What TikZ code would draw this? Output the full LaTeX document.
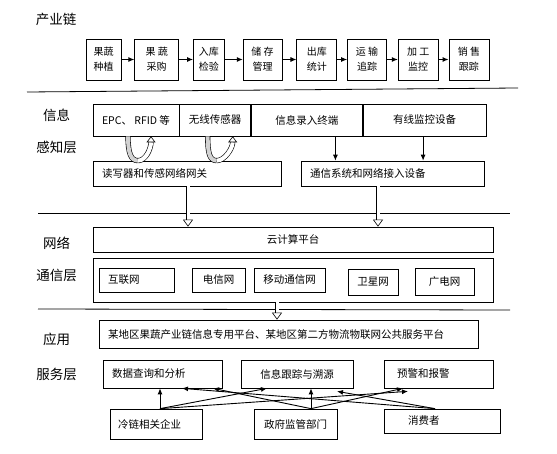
\documentclass[tikz,border=0pt]{standalone}
\usepackage{fontspec}
\setmainfont{Noto Sans CJK SC}
\usetikzlibrary{arrows.meta,positioning}

\begin{document}
\begin{tikzpicture}[x=1pt,y=-1pt,>={Latex[length=6pt,width=5pt]},
    box/.style={draw,rectangle,line width=0.7pt,inner sep=0pt,
      font=\fontsize{10.5}{13}\selectfont},
    chain/.style={box,minimum height=41pt,align=center,
      font=\fontsize{10}{15}\selectfont},
    layer/.style={font=\fontsize{13.5}{16}\selectfont},
    hollow/.style={double,double distance=3pt,line width=0.6pt,
      -{Triangle[open,length=7pt,width=10pt]}},
    uband/.style={double=gray!35,double distance=4pt,line width=0.6pt},
    link/.style={->,line width=0.9pt}]
  \useasboundingbox (0,0) rectangle (557,454);

  % layer names
  \node[layer] (l0) at (56,19) {产业链};
  \node[layer] (l1) at (56.5,115) {信息};
  \node[layer] (l2) at (56.5,147) {感知层};
  \node[layer] (l3) at (56.5,243) {网络};
  \node[layer] (l4) at (56.5,275) {通信层};
  \node[layer] (l5) at (56.5,339) {应用};
  \node[layer] (l6) at (56.5,374) {服务层};

  % industry chain
  \node[chain,minimum width=35pt] (c1) at (103.5,59.5) {果蔬\\种植};
  \node[chain,minimum width=44pt,right=13pt of c1] (c2) {果 蔬\\采购};
  \node[chain,minimum width=31pt,right=14pt of c2] (c3) {入库\\检验};
  \node[chain,minimum width=39pt,right=18pt of c3] (c4) {储 存\\管理};
  \node[chain,minimum width=40pt,right=14pt of c4] (c5) {出库\\统计};
  \node[chain,minimum width=39pt,right=10pt of c5] (c6) {运 输\\追踪};
  \node[chain,minimum width=40pt,right=11pt of c6] (c7) {加 工\\监控};
  \node[chain,minimum width=40pt,right=10pt of c7] (c8) {销 售\\跟踪};
  \draw[link] (c1) -- (c2);
  \draw[link] (c2) -- (c3);
  \draw[link] (c3) -- (c4);
  \draw[link] (c4) -- (c5);
  \draw[link] (c5) -- (c6);
  \draw[link] (c6) -- (c7);
  \draw[link] (c7) -- (c8);

  % separators
  \draw[line width=0.8pt] (27,92) -- (518,88);
  \draw[line width=0.8pt] (38,213) -- (510,213);
  \draw[line width=0.8pt] (38,309) -- (510,310);

  % sensing layer
  \node[box,minimum width=86pt,minimum height=32pt] (i1) at (136,120) {EPC、 RFID 等};
  \node[box,minimum width=71pt,minimum height=32pt,right=0pt of i1] (i2) {无线传感器};
  \node[box,minimum width=111pt,minimum height=32pt,right=0pt of i2] (i3) {信息录入终端};
  \node[box,minimum width=123pt,minimum height=32pt,right=0pt of i3] (i4) {有线监控设备};
  \node[box,minimum height=25pt,text width=170pt,inner xsep=9pt,align=left] (g)
    at (187,173.5) {读写器和传感网络网关};
  \node[box,minimum height=25pt,text width=165pt,inner xsep=9pt,align=left] (m)
    at (392.5,173.5) {通信系统和网络接入设备};
  \draw[link] ([xshift=28.5pt]i3.south) -- ([xshift=28.5pt]i3.south |- m.north);
  \draw[link] ([xshift=-1.5pt]i4.south) -- ([xshift=-1.5pt]i4.south |- m.north);
  \draw[uband] ([xshift=-8pt]i1.south) .. controls +(0,17) and +(-7,0) .. ([xshift=2pt]i1.south |- g.north);
  \draw[uband,double=white,-{Triangle[open,length=6pt,width=9pt]}] ([xshift=2pt]i1.south |- g.north)
    .. controls +(8,0) and +(0,12) .. ([xshift=15pt]i1.south);
  \draw[uband] ([xshift=-7.5pt]i2.south) .. controls +(0,17) and +(-7,0) .. ([xshift=1.5pt]i2.south |- g.north);
  \draw[uband,double=white,-{Triangle[open,length=6pt,width=9pt]}] ([xshift=1.5pt]i2.south |- g.north)
    .. controls +(8,0) and +(0,12) .. ([xshift=17.5pt]i2.south);

  % network layer
  \node[box,minimum width=400pt,minimum height=25pt] (cloud) at (293,239.5) {云计算平台};
  \node[box,minimum width=400pt,minimum height=44pt] (net) at (293,280) {};
  \node[box,minimum height=24pt,text width=57pt,inner xsep=9pt,align=left] (n1) at (136.5,280) {互联网};
  \node[box,minimum width=53pt,minimum height=24pt] (n2) at (218.5,280) {电信网};
  \node[box,minimum width=71pt,minimum height=24pt] (n3) at (289.5,280) {移动通信网};
  \node[box,minimum width=50pt,minimum height=26pt] (n4) at (373,282) {卫星网};
  \node[box,minimum width=59pt,minimum height=27pt] (n5) at (444.5,281.5) {广电网};
  \draw[hollow] ([xshift=1pt]g.south) -- ([xshift=1pt]g.south |- cloud.north);
  \draw[hollow] ([xshift=-14.5pt]m.south) -- ([xshift=-14.5pt]m.south |- cloud.north);

  % service layer
  \node[box,minimum height=28pt,text width=361pt,inner xsep=9pt,align=left] (p)
    at (288.5,334) {某地区果蔬产业链信息专用平台、某地区第二方物流物联网公共服务平台};
  \draw[hollow] ([xshift=-16pt]net.south) -- ([xshift=-16pt]net.south |- p.north);
  \node[box,minimum height=28pt,text width=101pt,inner xsep=9pt,align=left] (s1) at (162.5,374) {数据查询和分析};
  \node[box,minimum width=112pt,minimum height=28pt] (s2) at (297,374) {信息跟踪与溯源};
  \node[box,minimum height=28pt,text width=83pt,inner xsep=13pt,align=left] (s3) at (438.5,374) {预警和报警};
  \node[box,minimum height=30pt,text width=76pt,inner xsep=8pt,align=left] (u1) at (156,424) {冷链相关企业};
  \node[box,minimum width=83pt,minimum height=30pt] (u2) at (295.5,424) {政府监管部门};
  \node[box,minimum height=24pt,text width=68pt,inner xsep=24pt,align=left] (u3) at (442,421) {消费者};

  \draw[link] ([xshift=4pt]u1.north) -- ([xshift=4pt]u1.north |- s1.south);
  \draw[link] ([xshift=4pt]u1.north) -- ([xshift=-30pt]s2.south);
  \draw[link] ([xshift=4pt]u1.north) -- ([xshift=-30.5pt,yshift=-3pt]s3.south);
  \draw[link] ([xshift=15.5pt]u2.north) -- ([xshift=15.5pt]u2.north |- s2.south);
  \draw[link] ([xshift=15.5pt]u2.north) -- ([xshift=50.5pt]s1.south);
  \draw[link] ([xshift=15.5pt]u2.north) -- ([xshift=-35.5pt]s3.south);
  \draw[link] ([xshift=-7pt]u3.north) -- ([xshift=19.5pt]s1.south);
  \draw[link] ([xshift=-7pt]u3.north) -- ([xshift=40pt,yshift=-3pt]s2.south);
\end{tikzpicture}
\end{document}
